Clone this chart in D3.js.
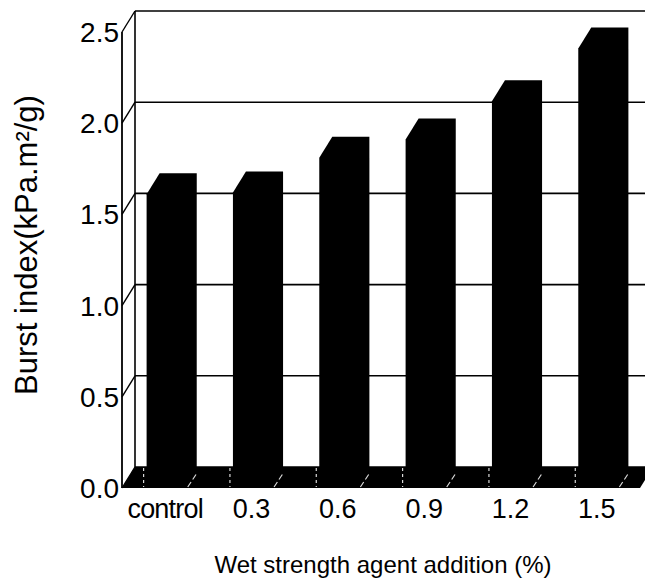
<!DOCTYPE html>
<html>
<head>
<meta charset="utf-8">
<script src="https://cdn.jsdelivr.net/npm/d3@7/dist/d3.min.js"></script>
<style>
  html, body { margin: 0; padding: 0; background: #fff; }
  svg { display: block; }
  text { font-family: "Liberation Sans", Arial, Helvetica, sans-serif; fill: #000; }
</style>
</head>
<body>
<svg id="chart" width="645" height="588"></svg>
<script>
// Burst index by wet strength agent addition
const categories = ["control", "0.3", "0.6", "0.9", "1.2", "1.5"];
const burstIndex = [1.61, 1.62, 1.81, 1.91, 2.12, 2.41];
const yTicks = [0.0, 0.5, 1.0, 1.5, 2.0, 2.5];
const yTickLabels = ["0.0", "0.5", "1.0", "1.5", "2.0", "2.5"];

const svg = d3.select("#chart");

// front plane of the 3D box and its depth offset
const plotLeft = 122, plotRight = 640, plotBottom = 488, plotTop = 32;
const depthX = 13, depthY = -21;

const x = d3.scaleBand().domain(categories).range([plotLeft, plotRight])
  .paddingInner(0.57).paddingOuter(0.285);
const y = d3.scaleLinear().domain([0, 2.5]).range([plotBottom, plotTop]);

const line = (x1, y1, x2, y2, w = 1.5) =>
  svg.append("line").attr("x1", x1).attr("y1", y1).attr("x2", x2).attr("y2", y2)
    .attr("stroke", "#000").attr("stroke-width", w);

// back wall gridlines and border
yTicks.forEach(t => {
  line(plotLeft + depthX, y(t) + depthY, plotRight + depthX + 20, y(t) + depthY, t === 2.5 ? 1.4 : 1.6);
});
line(plotLeft + depthX, y(2.5) + depthY, plotLeft + depthX, y(0) + depthY, 1.6);

// side wall: diagonals at each tick, front axis line
yTicks.forEach(t => line(plotLeft, y(t), plotLeft + depthX, y(t) + depthY, 1.4));
line(plotLeft, y(2.5), plotLeft, y(0), 1.8);

// floor
svg.append("path")
  .attr("d", d3.line()([
    [plotLeft, plotBottom], [plotRight, plotBottom],
    [plotRight + depthX, plotBottom + depthY], [plotLeft + depthX, plotBottom + depthY]
  ]) + "Z")
  .attr("fill", "#000");

// bars: front face, top face and right side face
const bw = x.bandwidth();
const bars = svg.append("g");
categories.forEach((c, i) => {
  const x0 = x(c), x1 = x0 + bw, yt = y(burstIndex[i]);
  const pts = [
    [x0, plotBottom], [x0, yt], [x0 + depthX, yt + depthY],
    [x1 + depthX, yt + depthY], [x1 + depthX, plotBottom + depthY], [x1, plotBottom]
  ];
  bars.append("path").attr("d", d3.line()(pts) + "Z").attr("fill", "#000");
});

// faint edge highlights on the floor around each bar
const marks = svg.append("g").attr("stroke", "#fff").attr("stroke-width", 1.2)
  .attr("stroke-dasharray", "3,3").attr("opacity", 0.85);
categories.forEach(c => {
  const x0 = x(c) - 3, x1 = x(c) + bw + 4;
  marks.append("line").attr("x1", x0).attr("y1", plotBottom + depthY + 1)
    .attr("x2", x0).attr("y2", plotBottom - 1);
  marks.append("line").attr("x1", x1).attr("y1", plotBottom - 1)
    .attr("x2", x1 + depthX * 0.75).attr("y2", plotBottom + depthY * 0.75)
    .attr("stroke-dasharray", "6,3");
});

// y tick labels
svg.append("g").selectAll("text").data(yTicks).join("text")
  .attr("x", 119).attr("y", d => y(d)).attr("dy", "0.36em")
  .attr("text-anchor", "end").attr("font-size", 28)
  .text((d, i) => yTickLabels[i]);

// x tick labels
svg.append("g").selectAll("text").data(categories).join("text")
  .attr("x", d => x(d) + bw / 2).attr("y", 518)
  .attr("text-anchor", "middle").attr("font-size", 27)
  .attr("letter-spacing", d => d === "control" ? -0.8 : 0)
  .text(d => d);

// axis titles
svg.append("text")
  .attr("x", 383).attr("y", 573).attr("text-anchor", "middle")
  .attr("font-size", 24).text("Wet strength agent addition (%)");

svg.append("text")
  .attr("transform", "translate(37,245) rotate(-90)")
  .attr("text-anchor", "middle").attr("font-size", 31)
  .text("Burst index(kPa.m²/g)");
</script>
</body>
</html>
